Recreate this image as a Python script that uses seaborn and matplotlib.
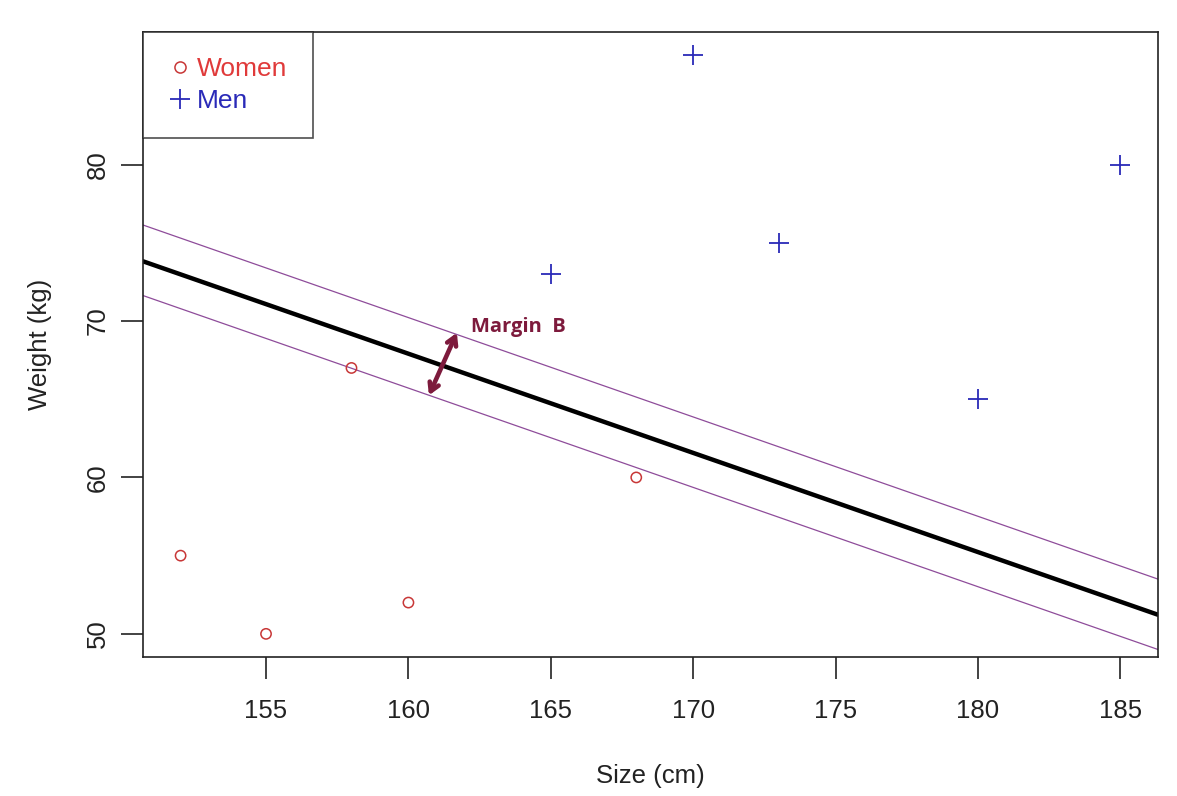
import matplotlib
matplotlib.use('Agg')
import numpy as np
import pandas as pd
import matplotlib.pyplot as plt
import seaborn as sns

# data
women_size = [152, 155, 158, 160, 168]
women_weight = [55, 50, 67, 52, 60]
men_size = [165, 170, 173, 180, 185]
men_weight = [73, 87, 75, 65, 80]

# separating line and margins: weight at left / right edge of plot
line_x = [150.68, 186.32]
line_mid = [73.82, 51.22]
line_upper = [76.14, 53.50]
line_lower = [71.63, 49.00]

# arrow for the margin annotation
arrow_from = (160.72, 65.25)
arrow_to = (161.70, 69.25)

sns.set_style('white')
plt.rcParams['font.family'] = ['Liberation Sans', 'DejaVu Sans']

women_col = '#c83737'
men_col = '#2a2ab8'
maroon = '#7d1a3c'
ink = '#222222'

df = pd.DataFrame({
    'size': women_size + men_size,
    'weight': women_weight + men_weight,
    'group': ['Women'] * len(women_size) + ['Men'] * len(men_size),
})

fig = plt.figure(figsize=(11.77, 7.96), dpi=100)
ax = fig.add_axes([143 / 1177, 1 - 657 / 796, (1158 - 143) / 1177, (657 - 32) / 796])

sns.scatterplot(data=df[df.group == 'Women'], x='size', y='weight', ax=ax,
                marker='o', s=55, facecolor='none', edgecolor=women_col,
                linewidth=1.1, legend=False, zorder=3)
sns.scatterplot(data=df[df.group == 'Men'], x='size', y='weight', ax=ax,
                marker='+', s=220, color=men_col, linewidth=1.3,
                legend=False, zorder=3)

sns.lineplot(x=line_x, y=line_upper, ax=ax, color='#8e4c9a', linewidth=0.9)
sns.lineplot(x=line_x, y=line_lower, ax=ax, color='#8e4c9a', linewidth=0.9)
sns.lineplot(x=line_x, y=line_mid, ax=ax, color='black', linewidth=3.2)

ax.annotate('', xy=arrow_to, xytext=arrow_from,
            arrowprops=dict(arrowstyle='<->,head_length=0.6,head_width=0.35',
                            color=maroon, lw=3.3, shrinkA=0, shrinkB=0))
ax.text(162.2, 69.6, 'Margin  B', color=maroon, fontsize=14.5,
        fontweight='bold', ha='left', va='center',
        family=['Open Sans', 'DejaVu Sans'])

ax.set_xlim(line_x[0], line_x[1])
ax.set_ylim(48.52, 88.48)
ax.set_xticks([155, 160, 165, 170, 175, 180, 185])
ax.set_yticks([50, 60, 70, 80])
ax.tick_params(axis='both', length=16, width=1.2, color=ink, labelcolor=ink,
               labelsize=18.5, left=True, bottom=True, pad=14)
ax.tick_params(axis='y', pad=8)
for lab in ax.get_yticklabels():
    lab.set_rotation(90)
    lab.set_va('center')
ax.set_xlabel('Size (cm)', fontsize=18.5, labelpad=30, color=ink)
ax.set_ylabel('Weight (kg)', fontsize=18.5, labelpad=24, color=ink)
for sp in ax.spines.values():
    sp.set_visible(True)
    sp.set_color(ink)
    sp.set_linewidth(1.2)

h_w = plt.Line2D([], [], marker='o', linestyle='none', markersize=8,
                 markerfacecolor='none', markeredgecolor=women_col, markeredgewidth=1.1)
h_m = plt.Line2D([], [], marker='+', linestyle='none', markersize=15,
                 color=men_col, markeredgewidth=1.3)
leg = ax.legend([h_w, h_m], ['Women', 'Men'], loc='upper left',
                bbox_to_anchor=(0, 1), borderaxespad=0, fancybox=False,
                frameon=True, edgecolor=ink, fontsize=19,
                handletextpad=0.2, labelspacing=0.3, borderpad=0.95,
                handlelength=0.9)
leg.get_frame().set_linewidth(1.2)
for txt, col in zip(leg.get_texts(), ['#e03a3a', men_col]):
    txt.set_color(col)

fig.savefig('out.png', dpi=100)
